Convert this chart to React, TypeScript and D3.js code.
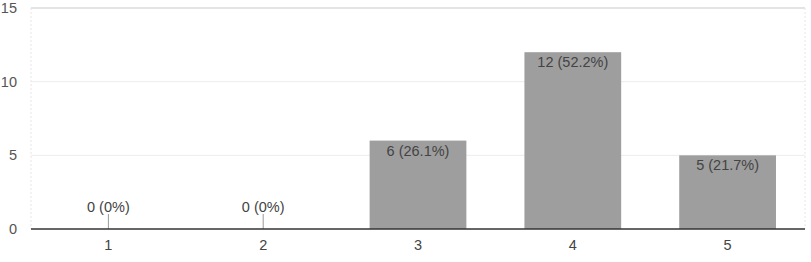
import React from "react";
import * as d3 from "d3";

const categories = ["1", "2", "3", "4", "5"];
const counts = [0, 0, 6, 12, 5];
const percents = ["0%", "0%", "26.1%", "52.2%", "21.7%"];
const yTicks = [0, 5, 10, 15];

export default function App() {
  const W = 811, H = 262;
  const left = 31, right = 805, top = 8, bottom = 229;
  const x = d3.scaleBand<string>().domain(categories).range([left, right]).paddingInner(0.375).paddingOuter(0.1875);
  const y = d3.scaleLinear().domain([0, 15]).range([bottom, top]);
  const font = "'Liberation Sans', Arial, sans-serif";
  return (
    <svg width={W} height={H} style={{ position: "absolute", left: 0, top: 0 }}>
      <rect width={W} height={H} fill="#fff" />
      {yTicks.map((t) => (
        <g key={t}>
          {t > 0 && (
            <line x1={left} x2={right} y1={y(t)} y2={y(t)} stroke={t === 15 ? "#e3e3e3" : "#ececec"} strokeWidth={t === 15 ? 2 : 1} />
          )}
          <text x={17} y={y(t) + 5} textAnchor="end" fontFamily={font} fontSize={14.5} fill="#555">{t}</text>
        </g>
      ))}
      <line x1={left} x2={left} y1={top} y2={bottom} stroke="#e6e6e6" strokeDasharray="2,2" />
      <line x1={right} x2={right} y1={top} y2={bottom} stroke="#e6e6e6" strokeDasharray="2,2" />
      {categories.map((c, i) => {
        const cx = (x(c) as number) + x.bandwidth() / 2;
        const v = counts[i];
        const label = `${v} (${percents[i]})`;
        return (
          <g key={c}>
            {v > 0 ? (
              <>
                <rect x={x(c)} y={y(v)} width={x.bandwidth()} height={bottom - y(v)} fill="#9e9e9e" />
                <text x={cx} y={y(v) + 15} textAnchor="middle" fontFamily={font} fontSize={14.5} fill="#444">{label}</text>
              </>
            ) : (
              <>
                <line x1={cx} x2={cx} y1={bottom - 15} y2={bottom} stroke="#999" strokeWidth={1} />
                <text x={cx} y={bottom - 17} textAnchor="middle" fontFamily={font} fontSize={14.5} fill="#444">{label}</text>
              </>
            )}
            <text x={cx} y={250} textAnchor="middle" fontFamily={font} fontSize={14.5} fill="#444">{c}</text>
          </g>
        );
      })}
      <line x1={left} x2={right} y1={bottom} y2={bottom} stroke="#333" strokeWidth={1.5} />
    </svg>
  );
}
